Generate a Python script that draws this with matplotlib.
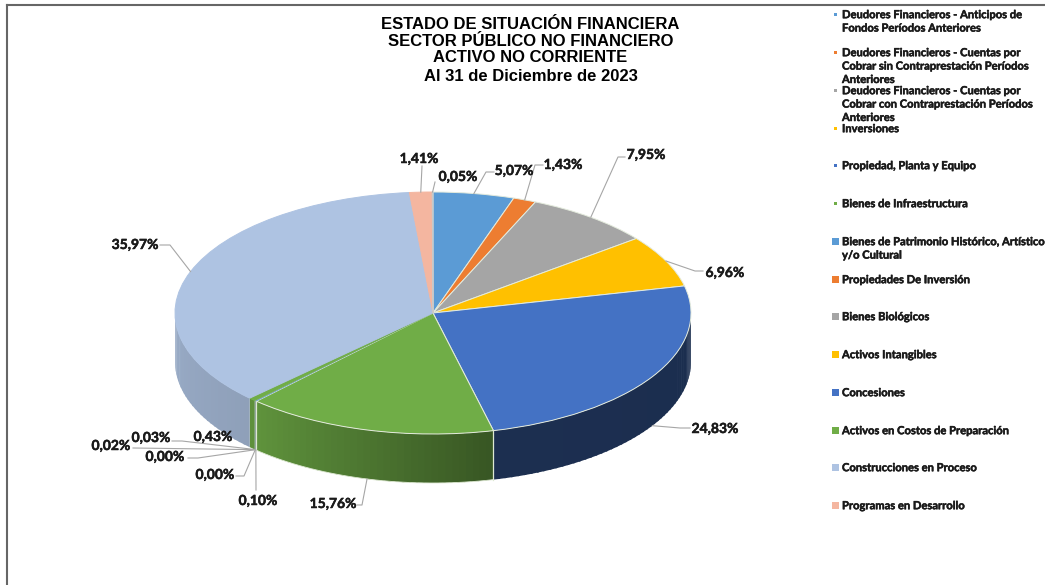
import numpy as np
import matplotlib
matplotlib.use("Agg")
import matplotlib.pyplot as plt
import matplotlib.patheffects as pe
from matplotlib.colors import to_rgb
from matplotlib.patches import Rectangle

W, H = 1045, 585

# data
values = [5.07, 1.43, 7.95, 6.96, 24.83, 15.76, 0.10, 0.00, 0.00, 0.02, 0.03, 0.43, 35.97, 1.41, 0.05]
value_labels = ["5,07%", "1,43%", "7,95%", "6,96%", "24,83%", "15,76%", "0,10%", "0,00%", "0,00%",
                "0,02%", "0,03%", "0,43%", "35,97%", "1,41%", "0,05%"]
legend_labels = [
    "Deudores Financieros - Anticipos de\nFondos Períodos Anteriores",
    "Deudores Financieros - Cuentas por\nCobrar sin Contraprestación Períodos\nAnteriores",
    "Deudores Financieros - Cuentas por\nCobrar con Contraprestación Períodos\nAnteriores",
    "Inversiones",
    "Propiedad, Planta y Equipo",
    "Bienes de Infraestructura",
    "Bienes de Patrimonio Histórico, Artístico\ny/o Cultural",
    "Propiedades De Inversión",
    "Bienes Biológicos",
    "Activos Intangibles",
    "Concesiones",
    "Activos en Costos de Preparación",
    "Construcciones en Proceso",
    "Programas en Desarrollo",
]
title_lines = ["ESTADO DE SITUACIÓN FINANCIERA", "SECTOR PÚBLICO NO FINANCIERO",
               "ACTIVO NO CORRIENTE", "Al 31 de Diciembre de 2023"]

# styles and layout (pixels of the picture)
colors = ["#5B9BD5", "#ED7D31", "#A5A5A5", "#FFC000", "#4472C4", "#70AD47", "#5B9BD5", "#ED7D31",
          "#A5A5A5", "#FFC000", "#4472C4", "#70AD47", "#AEC3E2", "#F4B6A0", "#C9C9C9"]
cx, cy, rx, ry, depth = 433, 313, 258, 121, 49
label_pos = [(514, 171), (563, 165), (646, 155), (725, 273), (715, 429), (333, 504), (258, 501), (215, 475),
             (165, 457), (111, 446), (151, 438), (213, 437), (135, 245), (419, 159), (458, 177)]
elbows = [[(486, 172), (494, 172)], [(535, 165), (543, 165)], [(618, 157), (625, 157)],
          [(695, 271), (703, 271)], [(680, 428), (690, 428)], [(362, 505), (357, 505)],
          [(256, 490)], [(244, 476), (236, 476)], [(198, 458), (188, 458)], [(133, 448)],
          [(182, 441), (172, 441)], None, [(170, 245), (160, 245)], [(422, 166)], [(435, 182)]]
legend_y = [14.7, 52.7, 90.7, 128.7, 165.7, 203.7, 241.7, 279.7, 316.7, 354.7, 392.7, 430.7, 467.7, 505.7]
heavy = [pe.withStroke(linewidth=0.35, foreground="#1a1a1a")]


def ux(px):
    return (px - cx) / rx


def uy(py):
    return (cy - py) / ry


fig = plt.figure(figsize=(W / 100, H / 100), dpi=100)
ax = fig.add_axes([0, 0, 1, 1])

wedges = ax.pie(values, colors=colors, startangle=90, counterclock=False, radius=1, center=(0, 0),
                wedgeprops={"edgecolor": "#E4EBDD", "linewidth": 0.7, "zorder": 3})[0]
# tiny slices and the pale ones get no light outline
for i in [6, 7, 8, 9, 10]:
    wedges[i].set_linewidth(0)
for i in [11, 12, 13, 14]:
    wedges[i].set_edgecolor(colors[i])
ax.set_aspect("auto")
ax.set_xlim(ux(0), ux(W))
ax.set_ylim(uy(H), uy(0))
ax.axis("off")

# side wall of the pie, drawn in thin strips so it gets the shading
d = depth / ry
edges = np.cumsum([0] + values) / sum(values) * 360
shade_ang = [90, 166, 167, 195, 223, 226, 270]
shade_val = [0.40, 0.41, 0.50, 0.68, 0.85, 0.82, 0.88]
for i in range(len(values)):
    a0, a1 = max(edges[i], 90), min(edges[i + 1], 270)
    if a1 <= a0:
        continue
    n = max(int((a1 - a0) / 1.5), 1)
    t = np.linspace(a0, a1, n + 1)
    base = np.array(to_rgb(colors[i]))
    for j in range(n):
        ta = np.radians(t[j])
        tb = np.radians(t[j + 1] + (0.5 if j < n - 1 else 0))
        xs = [np.sin(ta), np.sin(tb), np.sin(tb), np.sin(ta)]
        ys = [np.cos(ta), np.cos(tb), np.cos(tb) - d, np.cos(ta) - d]
        c = base * np.interp((t[j] + t[j + 1]) / 2, shade_ang, shade_val)
        ax.fill(xs, ys, color=c, lw=0, zorder=1)

# pale seams on the green wall
for a in [edges[5], edges[6]]:
    th = np.radians(a)
    ax.plot([np.sin(th), np.sin(th)], [np.cos(th), np.cos(th) - d], color="#DDE8D2", lw=0.9, zorder=2)
arc = np.radians(np.linspace(edges[5], edges[6], 60))
ax.plot(np.sin(arc), np.cos(arc) - d, color="#DDE8D2", lw=0.6, zorder=2)

# leader lines and value labels
mids = (edges[:-1] + edges[1:]) / 2
for i, txt in enumerate(value_labels):
    lx, ly = label_pos[i]
    ax.text(ux(lx), uy(ly), txt, ha="center", va="center", fontsize=10, fontweight="bold",
            family="Lato", color="#1a1a1a", zorder=6, path_effects=heavy)
    if elbows[i] is None:
        continue
    th = np.radians(mids[i])
    ax_, ay_ = np.sin(th), np.cos(th)
    if 90 < mids[i] < 270:
        ay_ -= d
    xs = [ax_] + [ux(p[0]) for p in elbows[i]]
    ys = [ay_] + [uy(p[1]) for p in elbows[i]]
    ax.plot(xs, ys, color="#A6A6A6", lw=0.8, zorder=5)

# title
for line, y in zip(title_lines, [25, 42, 58, 77]):
    ax.text(ux(530.5), uy(y), line, ha="center", va="center", fontsize=12, fontweight="bold",
            family="Liberation Sans", color="#000000")

# legend
for i, (lab, y) in enumerate(zip(legend_labels, legend_y)):
    size = 3.5 if i < 6 else 7
    ax.add_patch(Rectangle((ux(835.5 - size / 2), uy(y + size / 2)), size / rx, size / ry,
                           color=colors[i], lw=0))
    for k, part in enumerate(lab.split("\n")):
        ax.text(ux(842), uy(y + k * 13.4), part, ha="left", va="center", fontsize=8.05,
                fontweight="bold", family="Lato", color="#1a1a1a", clip_on=True, path_effects=heavy)

# frame of the sheet: only top and left show
ax.plot([ux(7), ux(W)], [uy(5), uy(5)], color="#666666", lw=1.5)
ax.plot([ux(7), ux(7)], [uy(5), uy(H)], color="#666666", lw=1.5)

fig.savefig("out.png", dpi=100)
